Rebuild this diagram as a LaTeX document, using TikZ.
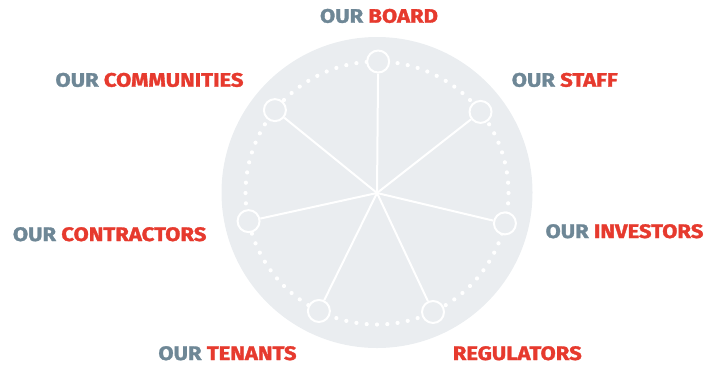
\documentclass[tikz,border=0pt]{standalone}
\usepackage{fontspec}
\setmainfont{Fira Sans}
\newfontfamily\labfont[UprightFont=* Bold, FakeStretch=1.13, FakeBold=1.6]{Fira Sans}
\usetikzlibrary{calc}
\definecolor{discgrey}{HTML}{EAEDF0}
\definecolor{labgrey}{HTML}{6E8796}
\definecolor{labred}{HTML}{E63A2E}
\tikzset{
  hubnode/.style={circle, draw=white, line width=2pt, fill=discgrey, minimum size=22pt, inner sep=0pt},
  spoke/.style={draw=white, line width=2pt},
  lab/.style={anchor=base, inner sep=0pt, font=\labfont\fontsize{19.5}{20}\selectfont},
}
\newcommand{\ourlab}[1]{\textcolor{labgrey}{OUR} \textcolor{labred}{#1}}
\begin{document}
\begin{tikzpicture}[x=1pt, y=-1pt]
\useasboundingbox (0,0) rectangle (708,365);
% grey disc
\fill[discgrey] (377,192.5) circle (155.5);
\coordinate (hub) at (377,193);
% dotted ring
\foreach \k in {0,...,79}
  \fill[white] ($(hub)+(\k*4.5:131.5)$) circle (2.1);
% spokes and member circles
\foreach \k/\nm in {0/board,1/staff,2/investors,3/regulators,4/tenants,5/contractors,6/communities}{
  \node[hubnode] (\nm) at ($(hub)+(-89.5+\k*51.43:131.5)$) {};
  \draw[spoke] (hub) -- (\nm);
}
% labels
\node[lab] (tboard) at (379,22.7) {\ourlab{BOARD}};
\node[lab] (tstaff) at (564.7,86.7) {\ourlab{STAFF}};
\node[lab] (tinv) at (624.5,238) {\ourlab{INVESTORS}};
\node[lab] (treg) at (517.3,360) {\textcolor{labred}{REGULATORS}};
\node[lab] (tten) at (227.5,360) {\ourlab{TENANTS}};
\node[lab] (tcon) at (109.7,241) {\ourlab{CONTRACTORS}};
\node[lab] (tcom) at (149.5,86.7) {\ourlab{COMMUNITIES}};
\end{tikzpicture}
\end{document}
